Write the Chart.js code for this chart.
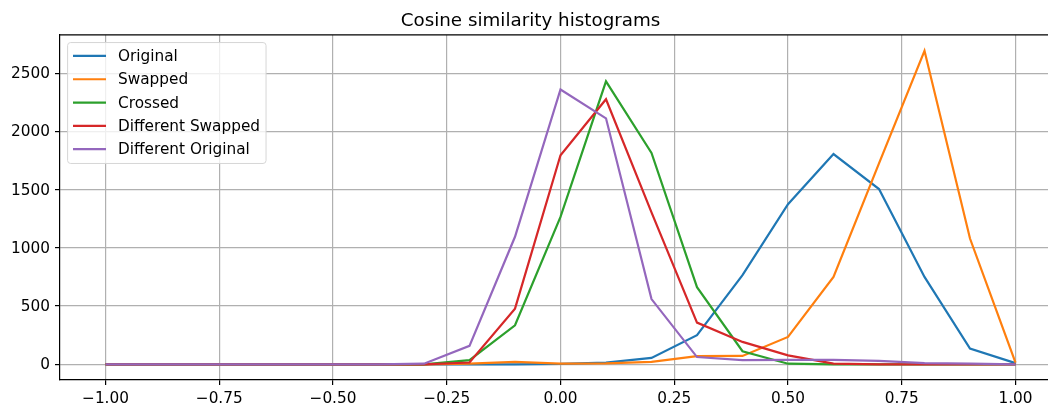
<!DOCTYPE html>
<html>
<head>
<meta charset="utf-8">
<script src="https://cdn.jsdelivr.net/npm/chart.js@4"></script>
<style>
  html, body { margin: 0; padding: 0; background: #fff; overflow: hidden; }
  #wrap { width: 1048px; height: 405px; overflow: hidden; }
</style>
</head>
<body>
<div id="wrap"><canvas id="chart" width="1120" height="405"></canvas></div>
<script>
// bin centres (cosine similarity)
var bins = [-1.0, -0.9, -0.8, -0.7, -0.6, -0.5, -0.4, -0.3, -0.2, -0.1, 0.0,
  0.1, 0.2, 0.3, 0.4, 0.5, 0.6, 0.7, 0.8, 0.9, 1.0];

var original = [0, 0, 0, 0, 0, 0, 0, 0, 0, 0, 3,
  15, 55, 250, 765, 1375, 1805, 1505, 750, 135, 10];
var swapped = [0, 0, 0, 0, 0, 0, 0, 0, 5, 20, 5,
  8, 20, 70, 72, 235, 750, 1725, 2692, 1080, 15];
var crossed = [0, 0, 0, 0, 0, 0, 0, 0, 35, 335, 1265,
  2430, 1815, 662, 112, 5, 0, 0, 0, 0, 0];
var diffSwapped = [0, 0, 0, 0, 0, 0, 0, 0, 15, 478, 1795,
  2276, 1305, 358, 192, 77, 5, 0, 0, 0, 0];
var diffOriginal = [0, 0, 0, 0, 0, 0, 0, 5, 158, 1095, 2360,
  2112, 560, 62, 35, 38, 38, 30, 10, 5, 0];

var seriesNames = ['Original', 'Swapped', 'Crossed', 'Different Swapped', 'Different Original'];
var seriesColors = ['#1f77b4', '#ff7f0e', '#2ca02c', '#d62728', '#9467bd'];

var xTicks = [-1.0, -0.75, -0.5, -0.25, 0.0, 0.25, 0.5, 0.75, 1.0];
var yTicks = [0, 500, 1000, 1500, 2000, 2500];

var FONT = 'DejaVu Sans';

var toPoints = function(values) {
  return bins.map(function(b, i) {
    return { x: b, y: values[i] };
  });
};

var allValues = [original, swapped, crossed, diffSwapped, diffOriginal];

var datasets = allValues.map(function(vals, i) {
  return {
    label: seriesNames[i],
    data: toPoints(vals),
    borderColor: seriesColors[i],
    backgroundColor: seriesColors[i],
    borderWidth: 2.2,
    pointRadius: 0,
    tension: 0,
    fill: false,
    order: allValues.length - i   // last series on top, like matplotlib
  };
});

// top spine + matplotlib style legend box inside the axes
var framePlugin = {
  id: 'frame',
  afterDatasetsDraw: function(chart) {
    var ctx = chart.ctx;
    var area = chart.chartArea;
    ctx.save();
    ctx.strokeStyle = '#000';
    ctx.lineWidth = 1.2;
    ctx.beginPath();
    ctx.moveTo(area.left, area.top);
    ctx.lineTo(area.right, area.top);
    ctx.moveTo(area.right, area.top);
    ctx.lineTo(area.right, area.bottom);
    ctx.stroke();

    // legend
    ctx.font = '15.3px "' + FONT + '"';
    var maxW = 0;
    chart.data.datasets.forEach(function(ds) {
      maxW = Math.max(maxW, ctx.measureText(ds.label).width);
    });
    var bx = area.left + 7.6;
    var by = area.top + 7.6;
    var rowH = 23.3;
    var bw = 50.4 + maxW + 6;
    var bh = 13.4 + rowH * (chart.data.datasets.length - 1) + 14.3;
    var r = 3;
    ctx.beginPath();
    ctx.moveTo(bx + r, by);
    ctx.lineTo(bx + bw - r, by);
    ctx.arcTo(bx + bw, by, bx + bw, by + r, r);
    ctx.lineTo(bx + bw, by + bh - r);
    ctx.arcTo(bx + bw, by + bh, bx + bw - r, by + bh, r);
    ctx.lineTo(bx + r, by + bh);
    ctx.arcTo(bx, by + bh, bx, by + bh - r, r);
    ctx.lineTo(bx, by + r);
    ctx.arcTo(bx, by, bx + r, by, r);
    ctx.closePath();
    ctx.fillStyle = 'rgba(255,255,255,0.8)';
    ctx.fill();
    ctx.strokeStyle = '#d6d6d6';
    ctx.lineWidth = 1;
    ctx.stroke();

    ctx.textBaseline = 'middle';
    ctx.textAlign = 'left';
    chart.data.datasets.forEach(function(ds, i) {
      var cy = by + 13.4 + i * rowH;
      ctx.strokeStyle = ds.borderColor;
      ctx.lineWidth = 2.2;
      ctx.beginPath();
      ctx.moveTo(bx + 5.4, cy);
      ctx.lineTo(bx + 38.4, cy);
      ctx.stroke();
      ctx.fillStyle = '#000';
      ctx.fillText(ds.label, bx + 50.4, cy + 1);
    });
    ctx.restore();
  }
};

var fmtX = function(v) {
  return v.toFixed(2).replace('-', '\u2212');
};

new Chart(document.getElementById('chart'), {
  type: 'line',
  data: { datasets: datasets },
  plugins: [framePlugin],
  options: {
    responsive: false,
    devicePixelRatio: 1,
    animation: false,
    layout: { padding: { left: 0, right: 59, top: 0, bottom: 0 } },
    plugins: {
      legend: { display: false },
      tooltip: { enabled: false },
      title: {
        display: true,
        text: 'Cosine similarity histograms',
        color: '#000',
        font: { family: FONT, size: 18.3, weight: 'normal' },
        padding: { top: 10, bottom: 3 }
      }
    },
    scales: {
      x: {
        type: 'linear',
        min: -1.1,
        max: 1.1,
        afterBuildTicks: function(scale) {
          scale.ticks = xTicks.map(function(v) { return { value: v }; });
        },
        afterFit: function(scale) { scale.height = 25; },
        ticks: {
          autoSkip: false,
          maxRotation: 0,
          padding: 5,
          color: '#000',
          font: { family: FONT, size: 15.3 },
          callback: function(v) { return fmtX(v); }
        },
        grid: { color: '#b0b0b0', lineWidth: 1.2, tickLength: 5, tickColor: '#000', tickWidth: 1.2 },
        border: { color: '#000', width: 1.2 }
      },
      y: {
        type: 'linear',
        min: -135,
        max: 2828,
        afterBuildTicks: function(scale) {
          scale.ticks = yTicks.map(function(v) { return { value: v }; });
        },
        afterFit: function(scale) { scale.width = 60; },
        ticks: {
          autoSkip: false,
          padding: 5,
          labelOffset: 1,
          color: '#000',
          font: { family: FONT, size: 15.3 },
          callback: function(v) { return String(v); }
        },
        grid: { color: '#b0b0b0', lineWidth: 1.2, tickLength: 5, tickColor: '#000', tickWidth: 1.2 },
        border: { color: '#000', width: 1.2 }
      }
    }
  }
});
</script>
</body>
</html>
